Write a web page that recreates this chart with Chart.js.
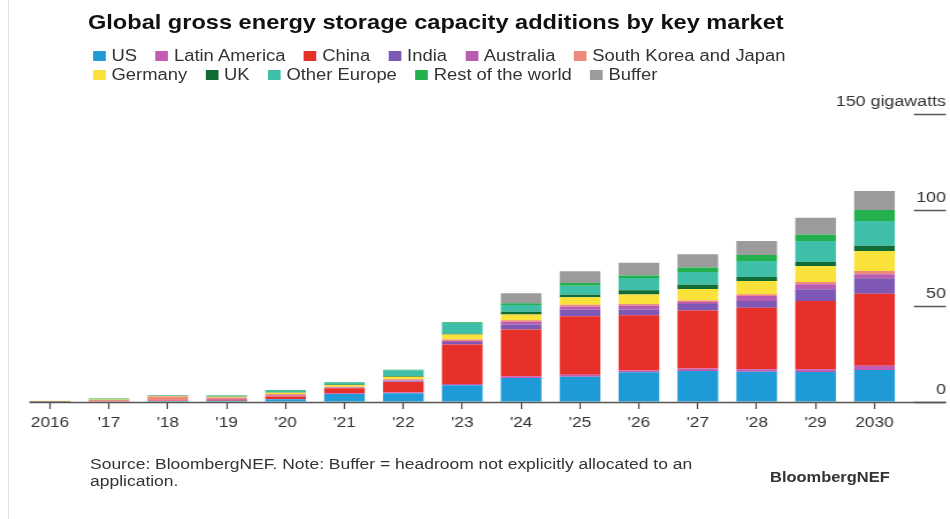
<!DOCTYPE html>
<html>
<head>
<meta charset="utf-8">
<script src="https://cdn.jsdelivr.net/npm/chart.js@4.4.1/dist/chart.umd.min.js"></script>
<style>
  html, body { margin: 0; padding: 0; background: #fff; overflow: hidden; }
  body { width: 950px; height: 519px; position: relative; font-family: "Liberation Sans", Arial, sans-serif; }
  #edge { position: absolute; left: 8px; top: 0; width: 1px; height: 519px; background: #e2e2e2; }
  #wrap { position: absolute; left: 0; top: 0; width: 826px; height: 519px; transform: scaleX(1.15); transform-origin: 0 0; }
  #title { position: absolute; left: 76.5px; top: 12px; font-size: 20.5px; line-height: 20px; font-weight: bold; color: #111; white-space: nowrap; }
  .lrow { position: absolute; left: 81px; height: 20px; display: flex; align-items: center; white-space: nowrap; }
  .litem { display: flex; align-items: center; margin-right: 16px; font-size: 16px; line-height: 20px; color: #333; }
  .lbox { width: 11px; height: 10px; margin-right: 5px; }
  #source { position: absolute; left: 78.3px; top: 454.5px; font-size: 15.2px; line-height: 17px; color: #333; width: 640px; white-space: nowrap; }
  #brand { position: absolute; left: 669.6px; top: 468.5px; font-size: 14.3px; line-height: 17px; font-weight: bold; color: #333; white-space: nowrap; }
  #c { position: absolute; left: 0; top: 0; }
</style>
</head>
<body>
<div id="edge"></div>
<div id="wrap">
  <div id="title">Global gross energy storage capacity additions by key market</div>
  <div id="legend"></div>
  <canvas id="c" width="826" height="519"></canvas>
  <div id="source">Source: BloombergNEF. Note: Buffer = headroom not explicitly allocated to an<br>application.</div>
  <div id="brand">BloombergNEF</div>
</div>
<script>
// ---- Data (gigawatts) ----
const categories = ["2016", "'17", "'18", "'19", "'20", "'21", "'22", "'23", "'24", "'25", "'26", "'27", "'28", "'29", "2030"];

const us           = [0.1, 0.3, 0.5, 0.6, 1.4, 4.2, 4.6, 8.7, 12.5, 13.2, 15.5, 16.1, 15.8, 15.6, 16.7];
const latinAmerica = [0.0, 0.0, 0.0, 0.1, 0.1, 0.3, 0.4, 0.7, 0.9, 1.0, 0.9, 1.4, 1.2, 1.4, 2.2];
const china        = [0.1, 0.1, 0.3, 0.5, 1.3, 2.6, 5.4, 20.5, 24.3, 30.4, 28.8, 30.2, 32.1, 35.6, 37.5];
const india        = [0.0, 0.0, 0.0, 0.0, 0.1, 0.2, 0.3, 1.4, 2.6, 3.5, 3.0, 3.4, 3.5, 6.1, 8.0];
const australia    = [0.0, 0.1, 0.1, 0.3, 0.5, 0.3, 0.5, 0.5, 1.4, 1.7, 2.1, 1.0, 2.6, 2.6, 2.1];
const koreaJapan   = [0.3, 0.6, 2.0, 0.9, 0.8, 0.4, 0.6, 0.7, 0.9, 0.9, 0.8, 0.7, 0.9, 1.2, 1.7];
const germany      = [0.1, 0.2, 0.2, 0.3, 0.6, 0.8, 1.4, 2.6, 3.0, 3.8, 4.9, 6.0, 6.9, 8.3, 10.4];
const uk           = [0.0, 0.1, 0.1, 0.1, 0.2, 0.3, 0.3, 0.5, 1.4, 1.4, 2.2, 2.3, 2.1, 2.1, 2.8];
const otherEurope  = [0.0, 0.2, 0.2, 0.4, 0.8, 1.0, 3.0, 5.5, 3.5, 4.7, 6.4, 6.6, 8.3, 10.9, 12.9];
const restOfWorld  = [0.0, 0.2, 0.1, 0.3, 0.4, 0.3, 0.3, 0.5, 0.9, 1.4, 1.3, 2.4, 3.1, 3.5, 5.7];
const buffer       = [0.0, 0.0, 0.0, 0.0, 0.0, 0.0, 0.0, 0.0, 5.2, 6.1, 6.6, 6.9, 7.3, 8.6, 9.9];

const seriesNames  = ["US", "Latin America", "China", "India", "Australia", "South Korea and Japan",
                      "Germany", "UK", "Other Europe", "Rest of the world", "Buffer"];
const seriesValues = [us, latinAmerica, china, india, australia, koreaJapan,
                      germany, uk, otherEurope, restOfWorld, buffer];
const seriesColors = ["#1e9bd7", "#c45ab3", "#e8302a", "#7f57b5", "#b85cb2", "#ee8a7d",
                      "#fae23a", "#116b35", "#40bfa8", "#22b14c", "#9b9b9b"];

const yTicks     = [0, 50, 100, 150];
const yTickText  = ["0", "50", "100", "150 gigawatts"];
const legendRows = [[0, 1, 2, 3, 4, 5], [6, 7, 8, 9, 10]];

// ---- HTML legend ----
const legend = document.getElementById('legend');
legendRows.forEach((row, r) => {
  const div = document.createElement('div');
  div.className = 'lrow';
  div.style.top = (46 + r * 19) + 'px';
  row.forEach(i => {
    const item = document.createElement('div');
    item.className = 'litem';
    const box = document.createElement('span');
    box.className = 'lbox';
    box.style.background = seriesColors[i];
    const txt = document.createElement('span');
    txt.textContent = seriesNames[i];
    item.appendChild(box); item.appendChild(txt);
    div.appendChild(item);
  });
  legend.appendChild(div);
});

// ---- Chart ----
Chart.defaults.font.family = '"Liberation Sans", Arial, sans-serif';
Chart.defaults.color = '#333';

const baselinePlugin = {
  id: 'baseline',
  afterDatasetsDraw(chart) {
    const x = chart.scales.x, y = chart.scales.y, ctx = chart.ctx;
    const catW = x.getPixelForValue(1) - x.getPixelForValue(0);
    const y0 = Math.round(y.getPixelForValue(0)) + 0.5;
    ctx.save();
    ctx.strokeStyle = '#555';
    ctx.lineWidth = 1.4;
    ctx.beginPath();
    ctx.moveTo(x.getPixelForValue(0) - catW * 0.35, y0);
    ctx.lineTo(y.right, y0);
    ctx.stroke();
    ctx.restore();
  }
};

new Chart(document.getElementById('c'), {
  type: 'bar',
  data: {
    labels: categories,
    datasets: seriesNames.map((name, i) => ({
      label: name,
      data: seriesValues[i],
      backgroundColor: seriesColors[i],
      borderWidth: 0,
      categoryPercentage: 1.0,
      barPercentage: 0.69
    }))
  },
  options: {
    responsive: false,
    animation: false,
    events: [],
    layout: { padding: { top: 114, bottom: 82, left: 17.9, right: 3.5 } },
    plugins: { legend: { display: false }, tooltip: { enabled: false } },
    scales: {
      x: {
        stacked: true,
        border: { display: false },
        grid: { display: true, drawOnChartArea: false, drawTicks: true, offset: false,
                tickLength: 7, tickColor: '#444', tickWidth: 1.2 },
        ticks: { font: { size: 15 }, color: '#333', padding: 5, autoSkip: false, maxRotation: 0 }
      },
      y: {
        stacked: true,
        position: 'right',
        min: 0, max: 150,
        afterFit: (s) => { s.width = 36.5; s.paddingTop = 0; s.paddingBottom = 0; },
        afterBuildTicks: (s) => { s.ticks = yTicks.map(v => ({ value: v })); },
        border: { display: false },
        grid: { display: true, drawOnChartArea: false, drawTicks: true, tickLength: 36.5,
                tickColor: '#555', tickWidth: 1.4, tickBorderDash: [0, 8.7, 27.8, 200] },
        ticks: {
          mirror: true,
          font: { size: 15.5 }, color: '#333', crossAlign: 'near', labelOffset: -12.5, padding: 36.5,
          autoSkip: false,
          callback: (v) => yTickText[yTicks.indexOf(v)]
        }
      }
    }
  },
  plugins: [baselinePlugin]
});
</script>
</body>
</html>
